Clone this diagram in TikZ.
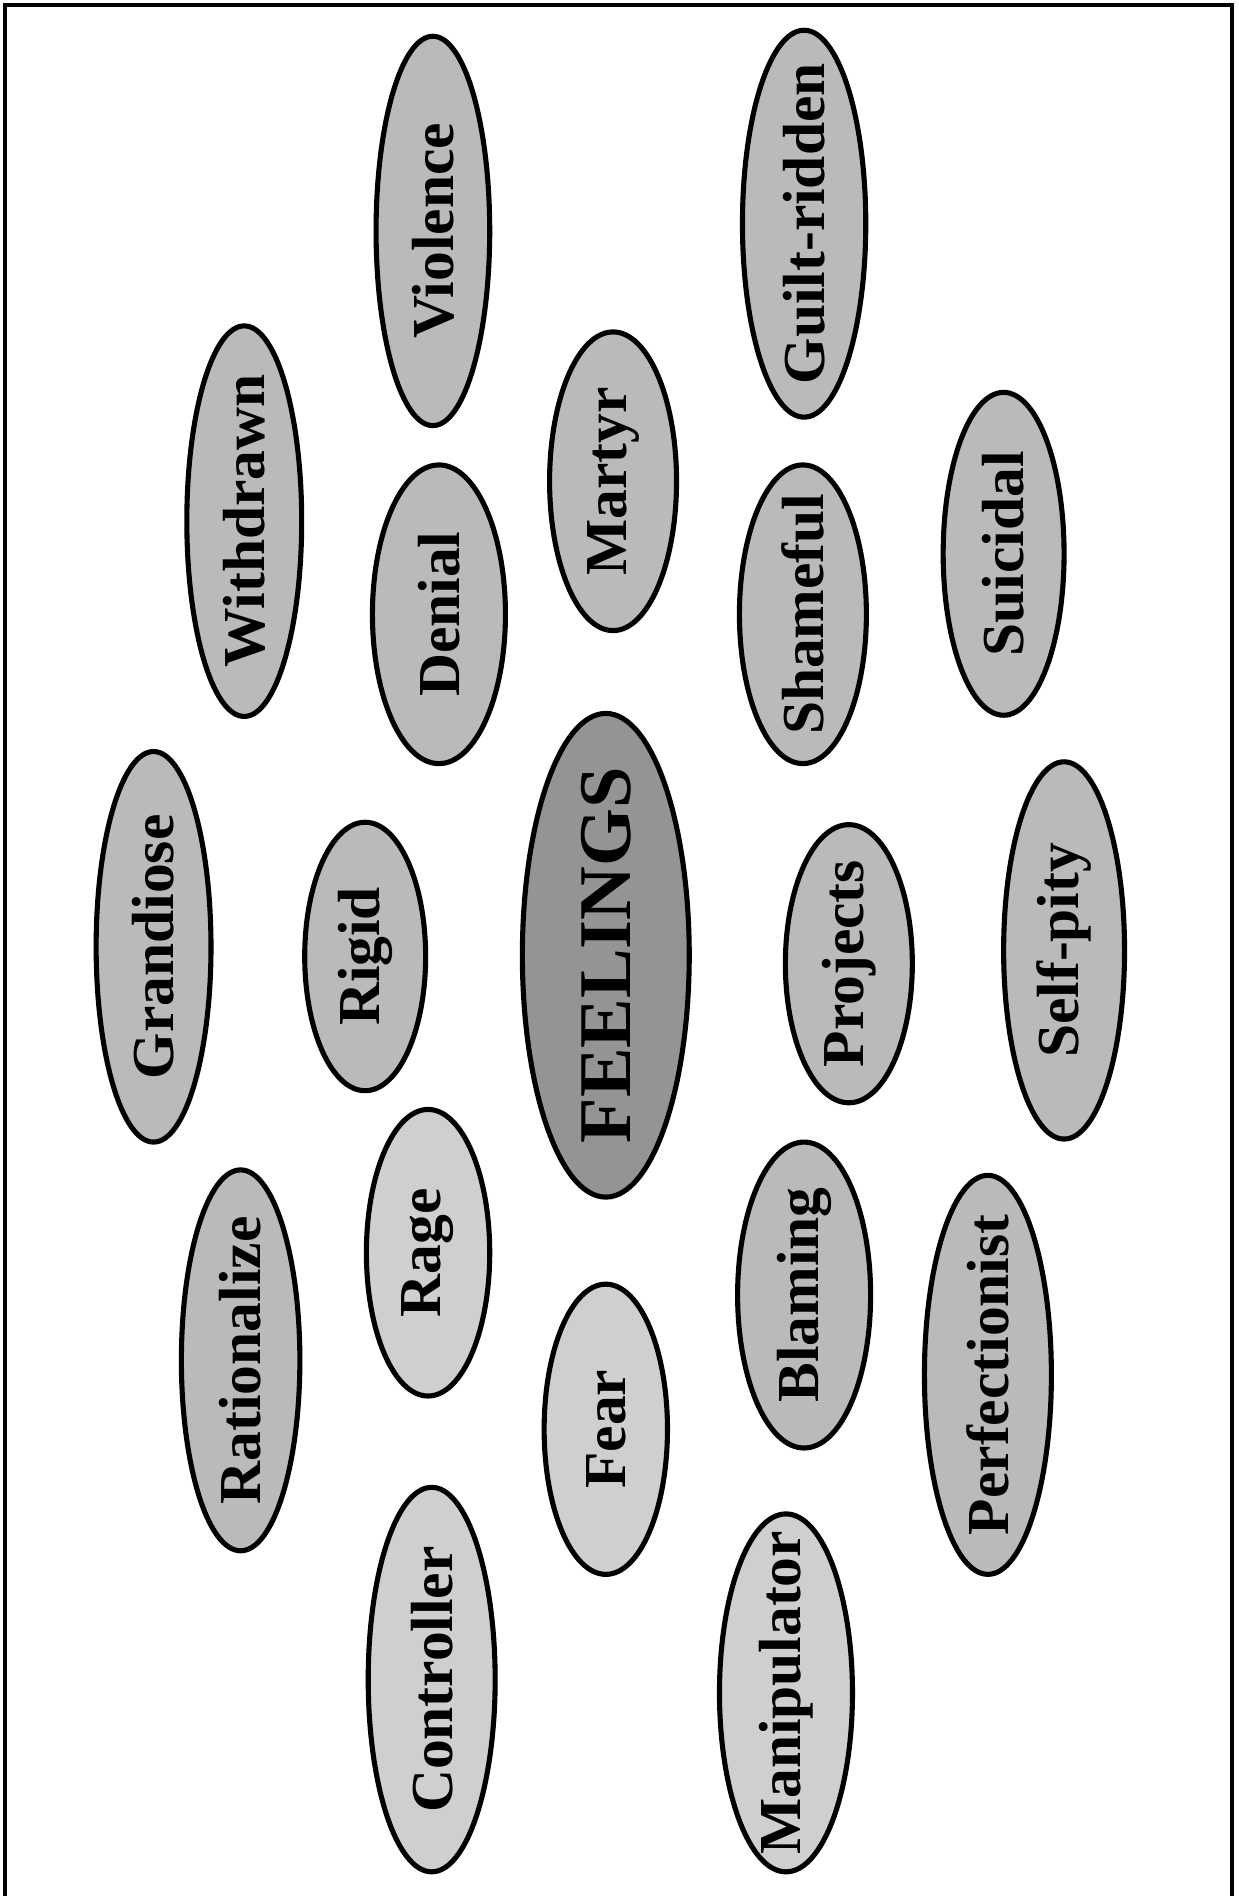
\documentclass[tikz,border=0pt]{standalone}
\usepackage{fontspec}
\setmainfont{Liberation Serif}
\usetikzlibrary{shapes.geometric}

\begin{document}
\begin{tikzpicture}[every node/.style={font=\fontsize{14}{16}\selectfont\bfseries},
  oval/.style={ellipse, draw, line width=1.2pt, fill=black!27, inner sep=0pt, rotate=90},
  pale/.style={oval, fill=black!19},
  core/.style={oval, fill=black!42, font=\fontsize{17.5}{20}\selectfont\bfseries}]
  \useasboundingbox (0,0) rectangle (10.24,-15.68);
  \draw[line width=0.8pt] (0.04,-15.68) -- (0.04,-0.04) -- (10.19,-0.04) -- (10.19,-15.68);
  % top rows
  \node[oval, minimum width=3.22cm, minimum height=0.94cm] (violence) at (3.58,-1.91) {\makebox[0pt]{Violence}};
  \node[oval, minimum width=3.20cm, minimum height=1.02cm] (guilt) at (6.65,-1.85) {\makebox[0pt]{Guilt-ridden}};
  \node[oval, minimum width=3.23cm, minimum height=0.95cm] (withdrawn) at (2.02,-4.31) {\makebox[0pt]{Withdrawn}};
  \node[oval, minimum width=2.47cm, minimum height=1.05cm] (martyr) at (5.07,-3.98) {\makebox[0pt]{Martyr}};
  \node[oval, minimum width=2.47cm, minimum height=1.10cm] (denial) at (3.63,-5.08) {\makebox[0pt]{Denial}};
  \node[oval, minimum width=2.47cm, minimum height=1.05cm] (shameful) at (6.64,-5.08) {\makebox[0pt]{Shameful}};
  \node[oval, minimum width=2.67cm, minimum height=1.00cm] (suicidal) at (8.30,-4.58) {\makebox[0pt]{Suicidal}};
  % middle row
  \node[oval, minimum width=3.23cm, minimum height=0.95cm] (grandiose) at (1.27,-7.83) {\makebox[0pt]{Grandiose}};
  \node[oval, minimum width=2.22cm, minimum height=1.00cm] (rigid) at (3.02,-7.91) {\makebox[0pt]{Rigid}};
  \node[core, minimum width=4.00cm, minimum height=1.38cm] (feelings) at (5.01,-7.90) {\makebox[0pt]{FEELINGS}};
  \node[oval, minimum width=2.30cm, minimum height=1.05cm] (projects) at (7.02,-7.97) {\makebox[0pt]{Projects}};
  \node[oval, minimum width=3.12cm, minimum height=1.00cm] (selfpity) at (8.80,-7.86) {\makebox[0pt]{Self-pity}};
  % bottom rows
  \node[oval, minimum width=3.15cm, minimum height=0.98cm] (rationalize) at (1.99,-11.25) {\makebox[0pt]{Rationalize}};
  \node[pale, minimum width=2.37cm, minimum height=1.02cm] (rage) at (3.54,-10.36) {\makebox[0pt]{Rage}};
  \node[pale, minimum width=2.40cm, minimum height=1.02cm] (fear) at (5.01,-11.82) {\makebox[0pt]{Fear}};
  \node[oval, minimum width=2.53cm, minimum height=1.10cm] (blaming) at (6.65,-10.71) {\makebox[0pt]{Blaming}};
  \node[oval, minimum width=3.30cm, minimum height=1.05cm] (perfectionist) at (8.17,-11.37) {\makebox[0pt]{Perfectionist}};
  \node[pale, minimum width=3.18cm, minimum height=1.05cm] (controller) at (3.57,-13.89) {\makebox[0pt]{Controller}};
  \node[pale, minimum width=2.96cm, minimum height=1.10cm] (manipulator) at (6.50,-14.00) {\makebox[0pt]{Manipulator}};
\end{tikzpicture}
\end{document}
